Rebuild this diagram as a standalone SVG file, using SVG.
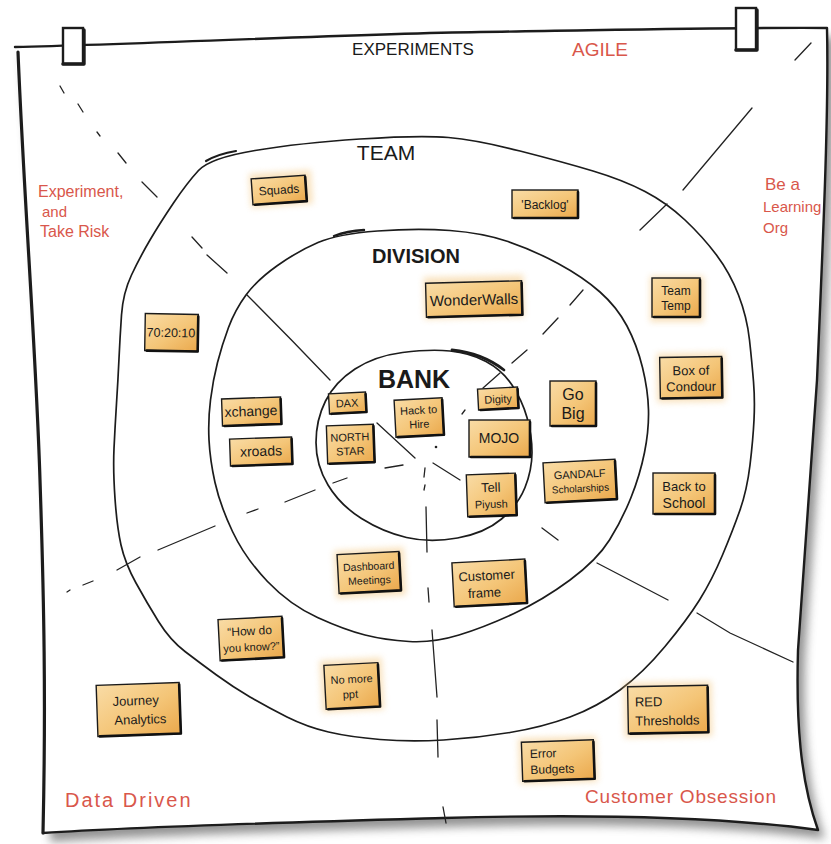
<svg xmlns="http://www.w3.org/2000/svg" width="831" height="844" viewBox="0 0 831 844">
  <defs>
    <linearGradient id="noteFill" x1="0" y1="0" x2="1" y2="1">
      <stop offset="0" stop-color="#f9dca6"/>
      <stop offset="0.55" stop-color="#f4c577"/>
      <stop offset="1" stop-color="#eaa84c"/>
    </linearGradient>
    <filter id="soft" x="-20%" y="-20%" width="140%" height="140%">
      <feGaussianBlur stdDeviation="5"/>
    </filter>
    <filter id="wash" x="-30%" y="-30%" width="160%" height="160%">
      <feGaussianBlur stdDeviation="3"/>
    </filter>
    <style>
      .ink { fill: none; stroke: #1c1c1c; stroke-linecap: round; stroke-linejoin: round; }
      .ring { fill: none; stroke: #1c1c1c; stroke-width: 1.7; stroke-linejoin: round; }
      .div { fill: none; stroke: #222; stroke-width: 1.3; stroke-linecap: round; }
      .note { fill: url(#noteFill); stroke: #1b1b1b; stroke-width: 1.4; }
      .edge { fill: none; stroke: #111; stroke-width: 2.6; stroke-linecap: round; stroke-linejoin: round; }
      .halo { fill: #f2c070; opacity: 0.45; filter: url(#wash); }
      .nt { font-family: "Liberation Sans", Arial, sans-serif; fill: #1a1a1a; text-anchor: middle; }
      .ns { font-family: "Liberation Sans", Arial, sans-serif; fill: #1a1a1a; text-anchor: start; }
      .hd { font-family: "Liberation Sans", Arial, sans-serif; fill: #1a1a1a; text-anchor: middle; }
      .red { font-family: "Liberation Sans", Arial, sans-serif; fill: #d9574b; }
    </style>
  </defs>

  <rect width="831" height="844" fill="#ffffff"/>

  <!-- paper sheet with its drop shadow -->
  <g id="paper">
    <path d="M15,47 C150,44 350,34 480,32 C620,30 760,27 827,28 C829,120 822,260 817,380 C812,460 804,560 798,650 C796,720 800,780 818,830 C700,814 550,815 443,818 C300,822 150,826 43,833 C46,700 44,600 40,480 C36,350 24,200 15,47 Z" fill="#6f6f6f" opacity="0.75" filter="url(#soft)" transform="translate(7,9)"/>
    <path d="M15,47 C150,44 350,34 480,32 C620,30 760,27 827,28 C829,120 822,260 817,380 C812,460 804,560 798,650 C796,720 800,780 818,830 C700,814 550,815 443,818 C300,822 150,826 43,833 C46,700 44,600 40,480 C36,350 24,200 15,47 Z" fill="#ffffff"/>
    <path class="ink" stroke-width="2.4" d="M15,47 C150,44 350,34 480,32 C620,30 760,27 827,28 C829,120 822,260 817,380 C812,460 804,560 798,650 C796,720 800,780 818,830 C700,814 550,815 443,818 C300,822 150,826 43,833"/>
    <path class="ink" stroke-width="3.2" d="M43,833 C46,700 44,600 40,480 C36,350 24,200 18,52"/>
    <!-- clips holding the sheet -->
    <rect x="63" y="28" width="20" height="36" fill="#ffffff" stroke="#1c1c1c" stroke-width="2.4"/>
    <path class="ink" stroke-width="3.4" d="M63,64 H84 V30"/>
    <rect x="736" y="8" width="20" height="42" fill="#ffffff" stroke="#1c1c1c" stroke-width="2.4"/>
    <path class="ink" stroke-width="3.4" d="M736,50 H757 V10"/>
  </g>

  <!-- concentric rings -->
  <g id="rings">
    <path id="ring-team" class="ring" d="M198.5,170.5 Q210,158 255,150.5 Q300,143 360,139 Q420,135 448.5,137.5 Q477,140 520,151 Q563,162 593,171 Q623,180 645,191.5 Q667,203 685,220 Q703,237 716.5,255 Q730,273 738.5,295 Q747,317 749.5,340 Q752,363 753.5,381.5 Q755,400 754,420 Q753,440 750,465 Q747,490 740,510 Q733,530 722.5,555 Q712,580 699.5,600 Q687,620 665,646.5 Q643,673 620,690 Q597,707 570,717 Q543,727 510,732.5 Q477,738 443.5,740 Q410,742 380,739.5 Q350,737 328.5,732 Q307,727 287,717 Q267,707 250,697 Q233,687 216.5,675 Q200,663 185,651.5 Q170,640 158.5,621.5 Q147,603 136,583 Q125,563 121,545 Q117,527 115,498.5 Q113,470 114,448.5 Q115,427 116.5,403.5 Q118,380 119,358.5 Q120,337 121.5,315 Q123,293 131.5,275 Q140,257 150,240 Q160,223 173.5,203 Q187,183 198.5,170.5 Z"/>
    <path class="ink" stroke-width="2.2" d="M206,161 Q218,154 236,151"/>
    <path id="ring-division" class="ring" d="M318,242.5 Q338,234 377.5,231 Q417,228 450,230.5 Q483,233 508,241.5 Q533,250 558,263.5 Q583,277 600,292 Q617,307 627,326 Q637,345 642.5,367.5 Q648,390 648.5,410 Q649,430 644.5,452.5 Q640,475 631,497.5 Q622,520 609.5,540 Q597,560 570,580 Q543,600 514,613.5 Q485,627 459,635 Q433,643 409,641.5 Q385,640 365,635 Q345,630 317.5,617.5 Q290,605 267.5,581.5 Q245,558 232.5,531.5 Q220,505 215,482.5 Q210,460 209,440 Q208,420 210.5,400 Q213,380 217.5,362.5 Q222,345 228.5,327.5 Q235,310 246,295 Q257,280 277.5,265.5 Q298,251 318,242.5 Z"/>
    <path class="ink" stroke-width="2.4" d="M334,236 Q347,231 364,230"/>
    <path id="ring-bank" class="ring" stroke-width="1.9" d="M402.5,352.5 Q430,349 450,351 Q470,353 486,361.5 Q502,370 512,385 Q522,400 527,417.5 Q532,435 532,452.5 Q532,470 525,487.5 Q518,505 501.5,519 Q485,533 457.5,538 Q430,543 406.5,537.5 Q383,532 361.5,518.5 Q340,505 328,485 Q316,465 316,442.5 Q316,420 325.5,401 Q335,382 355,369 Q375,356 402.5,352.5 Z"/>
    <path class="ink" stroke-width="2.8" d="M452,350 Q482,353 504,370"/>
  </g>

  <!-- radial dividers between the quadrants -->
  <g id="connectors">
    <path class="div" d="M60,86 L64,93 M78,104 L83,112 M97,132 L100,136 M118,153 L126,163 M142,182 L157,197 M192,237 L202,248 M207,255 L227,273 M247,295 Q290,338 330,380 M377,423 L415,458"/>
    <path class="div" d="M795,60 L811,43 M752,108 L683,190 M667,204 L640,230 M583,290 L570,305 M558,318 L543,334 M527,350 L512,363 M500,373 L483,388 M465,410 L462,414"/>
    <path class="div" d="M67,592 L70,590 M83,585 L93,581 M117,570 L140,557 M158,550 L215,526 M247,513 L258,509 M285,502 L315,490 M333,483 L347,478 M385,468 L403,465"/>
    <path class="div" d="M425,468 L424,477 M425,485 L424,490 M426,507 L427,552 M428,588 L429,602 M432,630 L437,697 M437,720 L438,757 M443,807 L446,823"/>
    <path class="div" d="M433,463 L460,480 M542,528 L558,540 M597,563 L668,600 M697,613 L730,633 L793,662"/>
    <circle cx="436" cy="447" r="1.3" fill="#222"/>
  </g>

  <!-- headings -->
  <g id="headings">
    <text class="hd" x="413" y="55" font-size="17">EXPERIMENTS</text>
    <text class="red" x="572" y="56" font-size="19">AGILE</text>
    <text class="hd" x="386" y="160" font-size="21">TEAM</text>
    <text class="hd" x="416" y="263" font-size="20" font-weight="bold">DIVISION</text>
    <text class="hd" x="414" y="388" font-size="25" font-weight="bold">BANK</text>
  </g>

  <!-- corner values -->
  <g id="values">
    <text class="red" x="38" y="197" font-size="16">Experiment,</text>
    <text class="red" x="42" y="217" font-size="15">and</text>
    <text class="red" x="40" y="237" font-size="16">Take Risk</text>
    <text class="red" x="765" y="190" font-size="17">Be a</text>
    <text class="red" x="763" y="212" font-size="15">Learning</text>
    <text class="red" x="763" y="233" font-size="15">Org</text>
    <text class="red" x="65" y="807" font-size="20" letter-spacing="2">Data Driven</text>
    <text class="red" x="585" y="803" font-size="19" letter-spacing="0.8">Customer Obsession</text>
  </g>

  <!-- sticky notes -->
  <g id="note-squads" transform="rotate(-4 279 190)">
    <rect class="halo" x="250" y="172" width="62" height="34"/>
    <rect class="note" x="252" y="177" width="54" height="26"/>
    <path class="edge" d="M254,203 H306 V179"/>
    <text class="nt" x="279" y="194" font-size="12">Squads</text>
  </g>
  <g id="note-backlog">
    <rect class="note" x="512" y="190" width="66" height="28"/>
    <path class="edge" d="M514,218 H578 V192"/>
    <text class="nt" x="545" y="209" font-size="12">'Backlog'</text>
  </g>
  <g id="note-wonderwalls" transform="rotate(-1.5 474 299)">
    <rect class="halo" x="424" y="276" width="100" height="42"/>
    <rect class="note" x="426" y="282" width="96" height="34"/>
    <path class="edge" d="M428,316 H522 V284"/>
    <text class="nt" x="474" y="305" font-size="15">WonderWalls</text>
  </g>
  <g id="note-teamtemp">
    <rect class="halo" x="650" y="276" width="54" height="46"/>
    <rect class="note" x="652" y="278" width="48" height="39"/>
    <path class="edge" d="M654,317 H700 V280"/>
    <text class="nt" x="676" y="295" font-size="12">Team</text>
    <text class="nt" x="676" y="310" font-size="12">Temp</text>
  </g>
  <g id="note-702010" transform="rotate(1 171 332)">
    <rect class="note" x="145" y="314" width="53" height="37"/>
    <path class="edge" d="M147,351 H198 V316"/>
    <text class="nt" x="171" y="337" font-size="12.5">70:20:10</text>
  </g>
  <g id="note-boxofcondour" transform="rotate(-1 691 377)">
    <rect class="halo" x="657" y="353" width="68" height="49"/>
    <rect class="note" x="660" y="357" width="62" height="41"/>
    <path class="edge" d="M662,398 H722 V359"/>
    <text class="nt" x="691" y="375" font-size="13">Box of</text>
    <text class="nt" x="691" y="391" font-size="13">Condour</text>
  </g>
  <g id="note-xchange" transform="rotate(-2 251 411)">
    <rect class="note" x="222" y="398" width="59" height="27"/>
    <path class="edge" d="M224,425 H281 V400"/>
    <text class="nt" x="251" y="416" font-size="14">xchange</text>
  </g>
  <g id="note-xroads" transform="rotate(-2 261 451)">
    <rect class="note" x="230" y="438" width="62" height="27"/>
    <path class="edge" d="M232,465 H292 V440"/>
    <text class="nt" x="261" y="456" font-size="14">xroads</text>
  </g>
  <g id="note-dax" transform="rotate(-3 347 403)">
    <rect class="note" x="329" y="393" width="37" height="20"/>
    <path class="edge" d="M331,413 H366 V395"/>
    <text class="nt" x="347" y="407" font-size="11">DAX</text>
  </g>
  <g id="note-northstar" transform="rotate(-2 350 444)">
    <rect class="note" x="327" y="425" width="47" height="38"/>
    <path class="edge" d="M329,463 H374 V427"/>
    <text class="nt" x="350" y="441" font-size="11">NORTH</text>
    <text class="nt" x="350" y="455" font-size="11">STAR</text>
  </g>
  <g id="note-hacktohire" transform="rotate(-3 419 417)">
    <rect class="note" x="395" y="399" width="48" height="37"/>
    <path class="edge" d="M397,436 H443 V401"/>
    <text class="nt" x="419" y="414" font-size="11">Hack to</text>
    <text class="nt" x="419" y="428" font-size="11">Hire</text>
  </g>
  <g id="note-digity" transform="rotate(-3 498 398)">
    <rect class="note" x="478" y="388" width="40" height="21"/>
    <path class="edge" d="M480,409 H518 V390"/>
    <text class="nt" x="498" y="403" font-size="11">Digity</text>
  </g>
  <g id="note-mojo">
    <rect class="note" x="469" y="420" width="61" height="37"/>
    <path class="edge" d="M471,457 H530 V422"/>
    <text class="nt" x="499" y="443" font-size="14">MOJO</text>
  </g>
  <g id="note-gobig">
    <rect class="note" x="550" y="381" width="46" height="45"/>
    <path class="edge" d="M552,426 H596 V383"/>
    <text class="nt" x="573" y="400" font-size="16">Go</text>
    <text class="nt" x="573" y="419" font-size="16">Big</text>
  </g>
  <g id="note-tellpiyush" transform="rotate(-2 491 495)">
    <rect class="note" x="467" y="474" width="49" height="42"/>
    <path class="edge" d="M469,516 H516 V476"/>
    <text class="nt" x="491" y="492" font-size="13">Tell</text>
    <text class="nt" x="491" y="508" font-size="11">Piyush</text>
  </g>
  <g id="note-gandalf" transform="rotate(-3 580 481)">
    <rect class="note" x="544" y="461" width="72" height="40"/>
    <path class="edge" d="M546,501 H616 V463"/>
    <text class="nt" x="580" y="478" font-size="11">GANDALF</text>
    <text class="nt" x="580" y="492" font-size="10">Scholarships</text>
  </g>
  <g id="note-backtoschool">
    <rect class="note" x="653" y="473" width="62" height="41"/>
    <path class="edge" d="M655,514 H715 V475"/>
    <text class="nt" x="684" y="491" font-size="13">Back to</text>
    <text class="nt" x="684" y="508" font-size="14">School</text>
  </g>
  <g id="note-dashboard" transform="rotate(-3 369 572)">
    <rect class="halo" x="335" y="549" width="70" height="48"/>
    <rect class="note" x="338" y="553" width="62" height="39"/>
    <path class="edge" d="M340,592 H400 V555"/>
    <text class="nt" x="369" y="570" font-size="10.5">Dashboard</text>
    <text class="nt" x="369" y="584" font-size="10.5">Meetings</text>
  </g>
  <g id="note-customerframe" transform="rotate(-3 489 583)">
    <rect class="note" x="453" y="561" width="73" height="44"/>
    <path class="edge" d="M455,605 H526 V563"/>
    <text class="nt" x="487" y="580" font-size="13">Customer</text>
    <text class="nt" x="484" y="597" font-size="13">frame</text>
  </g>
  <g id="note-howdoyouknow" transform="rotate(-3 251 638)">
    <rect class="note" x="219" y="618" width="64" height="41"/>
    <path class="edge" d="M221,659 H283 V620"/>
    <text class="nt" x="250" y="635" font-size="12">“How do</text>
    <text class="nt" x="251" y="651" font-size="11">you know?”</text>
  </g>
  <g id="note-nomoreppt" transform="rotate(-3 352 686)">
    <rect class="halo" x="321" y="659" width="62" height="52"/>
    <rect class="note" x="325" y="664" width="54" height="44"/>
    <path class="edge" d="M327,708 H379 V666"/>
    <text class="nt" x="352" y="683" font-size="11">No more</text>
    <text class="nt" x="350" y="698" font-size="11">ppt</text>
  </g>
  <g id="note-journey" transform="rotate(-2 138 709)">
    <rect class="note" x="97" y="684" width="83" height="51"/>
    <path class="edge" d="M99,735 H180 V686"/>
    <text class="nt" x="136" y="705" font-size="13">Journey</text>
    <text class="nt" x="140" y="724" font-size="13">Analytics</text>
  </g>
  <g id="note-red" transform="rotate(-1 668 709)">
    <rect class="halo" x="624" y="682" width="88" height="55"/>
    <rect class="note" x="628" y="686" width="80" height="47"/>
    <path class="edge" d="M630,733 H708 V688"/>
    <text class="ns" x="635" y="706" font-size="13">RED</text>
    <text class="ns" x="635" y="725" font-size="13">Thresholds</text>
  </g>
  <g id="note-errorbudgets" transform="rotate(-2 558 760)">
    <rect class="halo" x="519" y="737" width="78" height="46"/>
    <rect class="note" x="522" y="741" width="72" height="39"/>
    <path class="edge" d="M524,780 H594 V743"/>
    <text class="ns" x="530" y="757" font-size="12">Error</text>
    <text class="ns" x="530" y="773" font-size="12">Budgets</text>
  </g>
</svg>
